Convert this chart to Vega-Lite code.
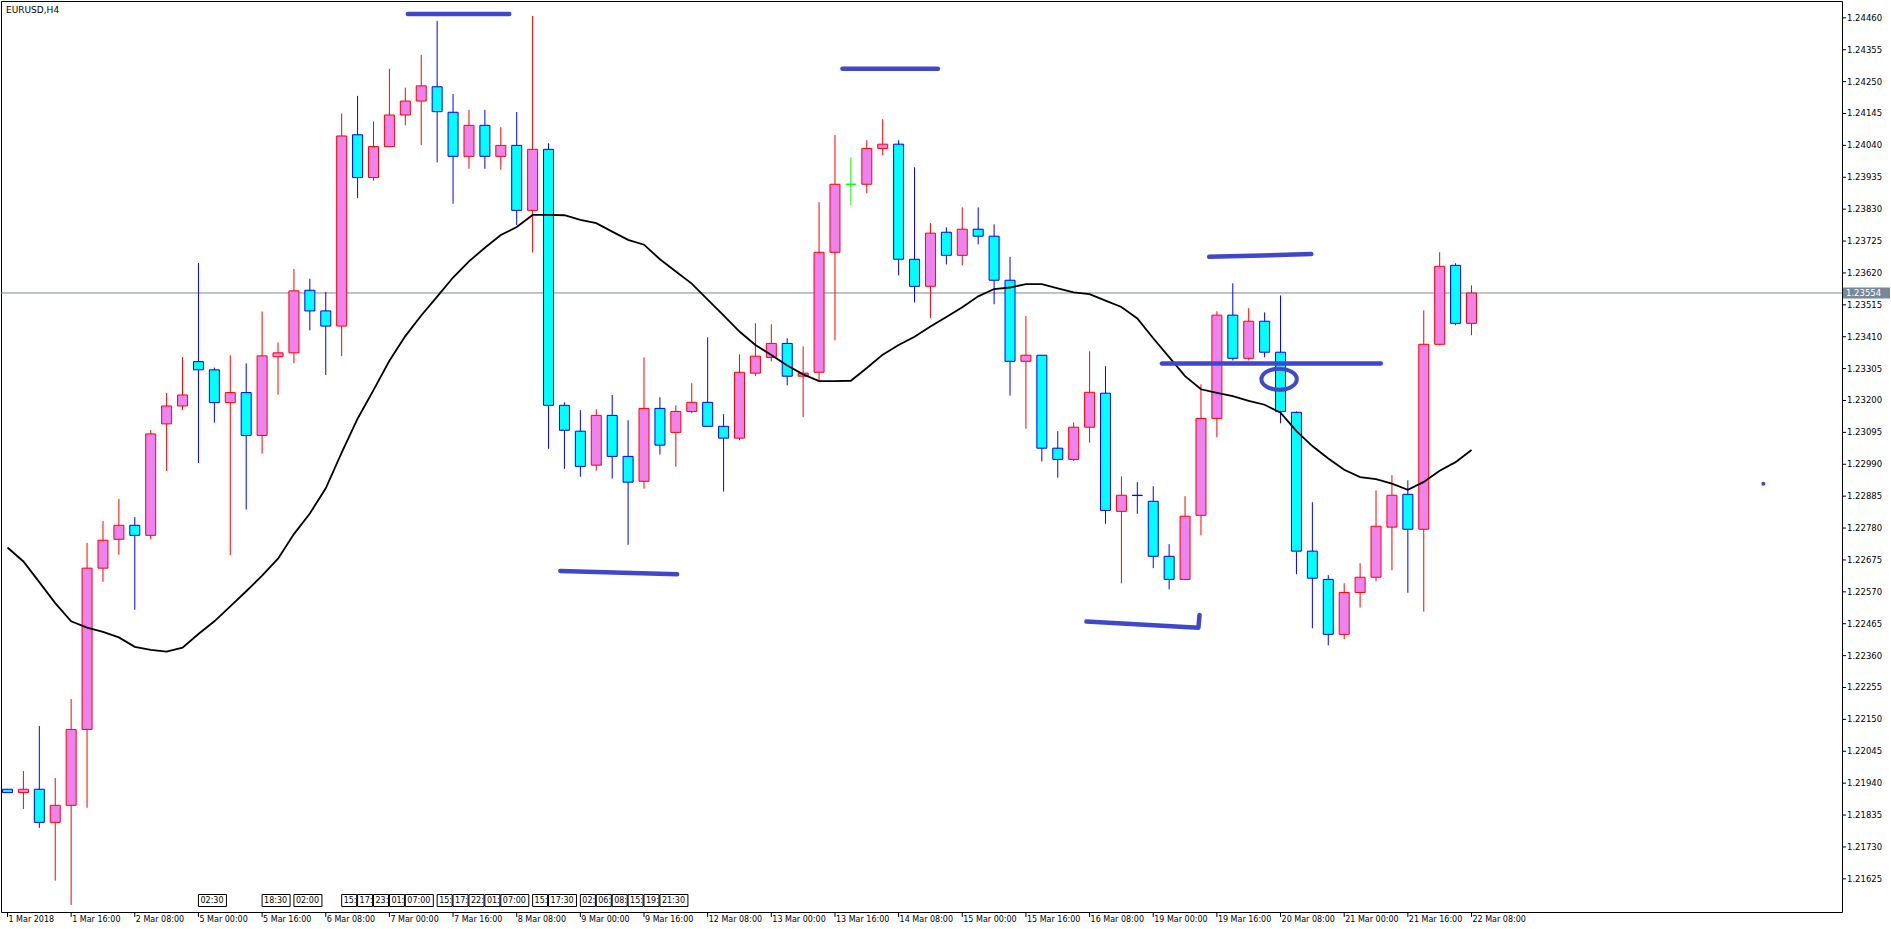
{
  "$schema": "https://vega.github.io/schema/vega-lite/v6.json",
  "width": 1841,
  "height": 911,
  "autosize": {"type": "none"},
  "padding": {"left": 1, "top": 1, "right": 49, "bottom": 17},
  "background": "white",
  "config": {
    "view": {"stroke": "black", "strokeWidth": 1},
    "font": "DejaVu Sans"
  },
  "datasets": {
    "bars": [
      {"i":0,"o":1.21920,"h":1.21921,"l":1.21908,"c":1.21909,"ma":1.22716},
      {"i":1,"o":1.21909,"h":1.21980,"l":1.21855,"c":1.21920,"ma":1.22670},
      {"i":2,"o":1.21920,"h":1.22128,"l":1.21793,"c":1.21811,"ma":1.22602},
      {"i":3,"o":1.21811,"h":1.21957,"l":1.21619,"c":1.21867,"ma":1.22533},
      {"i":4,"o":1.21867,"h":1.22217,"l":1.21539,"c":1.22117,"ma":1.22473},
      {"i":5,"o":1.22117,"h":1.22731,"l":1.21859,"c":1.22648,"ma":1.22452},
      {"i":6,"o":1.22648,"h":1.22803,"l":1.22603,"c":1.22740,"ma":1.22438},
      {"i":7,"o":1.22743,"h":1.22876,"l":1.22692,"c":1.22789,"ma":1.22420},
      {"i":8,"o":1.22789,"h":1.22816,"l":1.22511,"c":1.22756,"ma":1.22389},
      {"i":9,"o":1.22756,"h":1.23103,"l":1.22743,"c":1.23090,"ma":1.22379},
      {"i":10,"o":1.23123,"h":1.23225,"l":1.22968,"c":1.23182,"ma":1.22373},
      {"i":11,"o":1.23182,"h":1.23343,"l":1.23169,"c":1.23218,"ma":1.22386},
      {"i":12,"o":1.23328,"h":1.23653,"l":1.22994,"c":1.23301,"ma":1.22431},
      {"i":13,"o":1.23301,"h":1.23308,"l":1.23127,"c":1.23193,"ma":1.22473},
      {"i":14,"o":1.23193,"h":1.23349,"l":1.22691,"c":1.23226,"ma":1.22522},
      {"i":15,"o":1.23226,"h":1.23322,"l":1.22841,"c":1.23085,"ma":1.22572},
      {"i":16,"o":1.23085,"h":1.23493,"l":1.23025,"c":1.23347,"ma":1.22623},
      {"i":17,"o":1.23344,"h":1.23391,"l":1.23219,"c":1.23357,"ma":1.22679},
      {"i":18,"o":1.23357,"h":1.23633,"l":1.23323,"c":1.23561,"ma":1.22760},
      {"i":19,"o":1.23563,"h":1.23601,"l":1.23431,"c":1.23495,"ma":1.22828},
      {"i":20,"o":1.23495,"h":1.23557,"l":1.23284,"c":1.23445,"ma":1.22911},
      {"i":21,"o":1.23445,"h":1.24145,"l":1.23346,"c":1.24071,"ma":1.23028},
      {"i":22,"o":1.24075,"h":1.24203,"l":1.23867,"c":1.23934,"ma":1.23140},
      {"i":23,"o":1.23934,"h":1.24119,"l":1.23924,"c":1.24036,"ma":1.23234},
      {"i":24,"o":1.24036,"h":1.24292,"l":1.24036,"c":1.24140,"ma":1.23331},
      {"i":25,"o":1.24140,"h":1.24230,"l":1.24106,"c":1.24186,"ma":1.23412},
      {"i":26,"o":1.24186,"h":1.24338,"l":1.24041,"c":1.24236,"ma":1.23480},
      {"i":27,"o":1.24233,"h":1.24450,"l":1.23984,"c":1.24151,"ma":1.23542},
      {"i":28,"o":1.24149,"h":1.24209,"l":1.23848,"c":1.24004,"ma":1.23605},
      {"i":29,"o":1.24004,"h":1.24157,"l":1.23963,"c":1.24106,"ma":1.23658},
      {"i":30,"o":1.24106,"h":1.24157,"l":1.23963,"c":1.24004,"ma":1.23703},
      {"i":31,"o":1.24004,"h":1.24100,"l":1.23960,"c":1.24040,"ma":1.23745},
      {"i":32,"o":1.24040,"h":1.24150,"l":1.23778,"c":1.23826,"ma":1.23771},
      {"i":33,"o":1.23826,"h":1.24466,"l":1.23687,"c":1.24027,"ma":1.23811},
      {"i":34,"o":1.24027,"h":1.24047,"l":1.23041,"c":1.23184,"ma":1.23811},
      {"i":35,"o":1.23184,"h":1.23194,"l":1.22975,"c":1.23102,"ma":1.23810},
      {"i":36,"o":1.23099,"h":1.23168,"l":1.22949,"c":1.22983,"ma":1.23795},
      {"i":37,"o":1.22987,"h":1.23171,"l":1.22969,"c":1.23151,"ma":1.23784},
      {"i":38,"o":1.23151,"h":1.23218,"l":1.22943,"c":1.23016,"ma":1.23756},
      {"i":39,"o":1.23016,"h":1.23135,"l":1.22725,"c":1.22931,"ma":1.23729},
      {"i":40,"o":1.22934,"h":1.23342,"l":1.22910,"c":1.23174,"ma":1.23713},
      {"i":41,"o":1.23174,"h":1.23211,"l":1.23022,"c":1.23053,"ma":1.23665},
      {"i":42,"o":1.23095,"h":1.23184,"l":1.22982,"c":1.23164,"ma":1.23625},
      {"i":43,"o":1.23164,"h":1.23257,"l":1.23158,"c":1.23194,"ma":1.23585},
      {"i":44,"o":1.23194,"h":1.23408,"l":1.23115,"c":1.23115,"ma":1.23532},
      {"i":45,"o":1.23115,"h":1.23155,"l":1.22900,"c":1.23076,"ma":1.23480},
      {"i":46,"o":1.23076,"h":1.23352,"l":1.23069,"c":1.23293,"ma":1.23427},
      {"i":47,"o":1.23290,"h":1.23454,"l":1.23280,"c":1.23346,"ma":1.23383},
      {"i":48,"o":1.23342,"h":1.23451,"l":1.23329,"c":1.23388,"ma":1.23350},
      {"i":49,"o":1.23388,"h":1.23405,"l":1.23250,"c":1.23280,"ma":1.23315},
      {"i":50,"o":1.23280,"h":1.23378,"l":1.23145,"c":1.23290,"ma":1.23286},
      {"i":51,"o":1.23293,"h":1.23853,"l":1.23260,"c":1.23688,"ma":1.23264},
      {"i":52,"o":1.23688,"h":1.24074,"l":1.23398,"c":1.23912,"ma":1.23264},
      {"i":53,"o":1.23912,"h":1.24001,"l":1.23843,"c":1.23912,"ma":1.23265},
      {"i":54,"o":1.23912,"h":1.24057,"l":1.23882,"c":1.24030,"ma":1.23307},
      {"i":55,"o":1.24030,"h":1.24126,"l":1.24007,"c":1.24044,"ma":1.23351},
      {"i":56,"o":1.24044,"h":1.24057,"l":1.23612,"c":1.23665,"ma":1.23383},
      {"i":57,"o":1.23665,"h":1.23968,"l":1.23523,"c":1.23576,"ma":1.23410},
      {"i":58,"o":1.23576,"h":1.23784,"l":1.23471,"c":1.23751,"ma":1.23444},
      {"i":59,"o":1.23754,"h":1.23770,"l":1.23648,"c":1.23678,"ma":1.23475},
      {"i":60,"o":1.23678,"h":1.23836,"l":1.23645,"c":1.23764,"ma":1.23507},
      {"i":61,"o":1.23764,"h":1.23836,"l":1.23714,"c":1.23741,"ma":1.23543},
      {"i":62,"o":1.23741,"h":1.23780,"l":1.23517,"c":1.23596,"ma":1.23567},
      {"i":63,"o":1.23596,"h":1.23673,"l":1.23216,"c":1.23329,"ma":1.23572},
      {"i":64,"o":1.23329,"h":1.23478,"l":1.23107,"c":1.23349,"ma":1.23583},
      {"i":65,"o":1.23349,"h":1.23349,"l":1.22999,"c":1.23043,"ma":1.23583},
      {"i":66,"o":1.23043,"h":1.23099,"l":1.22946,"c":1.23006,"ma":1.23569},
      {"i":67,"o":1.23006,"h":1.23128,"l":1.23000,"c":1.23112,"ma":1.23556},
      {"i":68,"o":1.23112,"h":1.23362,"l":1.23061,"c":1.23227,"ma":1.23550},
      {"i":69,"o":1.23224,"h":1.23313,"l":1.22794,"c":1.22838,"ma":1.23529},
      {"i":70,"o":1.22835,"h":1.22950,"l":1.22598,"c":1.22888,"ma":1.23508},
      {"i":71,"o":1.22888,"h":1.22931,"l":1.22827,"c":1.22887,"ma":1.23470},
      {"i":72,"o":1.22868,"h":1.22918,"l":1.22648,"c":1.22687,"ma":1.23405},
      {"i":73,"o":1.22687,"h":1.22727,"l":1.22578,"c":1.22611,"ma":1.23343},
      {"i":74,"o":1.22611,"h":1.22885,"l":1.22608,"c":1.22819,"ma":1.23280},
      {"i":75,"o":1.22822,"h":1.23253,"l":1.22756,"c":1.23141,"ma":1.23237},
      {"i":76,"o":1.23141,"h":1.23494,"l":1.23079,"c":1.23481,"ma":1.23225},
      {"i":77,"o":1.23481,"h":1.23586,"l":1.23332,"c":1.23339,"ma":1.23214},
      {"i":78,"o":1.23339,"h":1.23504,"l":1.23332,"c":1.23461,"ma":1.23199},
      {"i":79,"o":1.23461,"h":1.23490,"l":1.23342,"c":1.23359,"ma":1.23186},
      {"i":80,"o":1.23359,"h":1.23546,"l":1.23125,"c":1.23164,"ma":1.23160},
      {"i":81,"o":1.23161,"h":1.23164,"l":1.22628,"c":1.22704,"ma":1.23099},
      {"i":82,"o":1.22704,"h":1.22865,"l":1.22450,"c":1.22615,"ma":1.23050},
      {"i":83,"o":1.22611,"h":1.22625,"l":1.22394,"c":1.22430,"ma":1.23009},
      {"i":84,"o":1.22430,"h":1.22598,"l":1.22414,"c":1.22568,"ma":1.22972},
      {"i":85,"o":1.22568,"h":1.22664,"l":1.22518,"c":1.22618,"ma":1.22948},
      {"i":86,"o":1.22618,"h":1.22904,"l":1.22605,"c":1.22786,"ma":1.22941},
      {"i":87,"o":1.22783,"h":1.22954,"l":1.22641,"c":1.22888,"ma":1.22926},
      {"i":88,"o":1.22891,"h":1.22937,"l":1.22567,"c":1.22776,"ma":1.22906},
      {"i":89,"o":1.22776,"h":1.23497,"l":1.22505,"c":1.23385,"ma":1.22932},
      {"i":90,"o":1.23385,"h":1.23688,"l":1.23382,"c":1.23642,"ma":1.22969},
      {"i":91,"o":1.23645,"h":1.23652,"l":1.23448,"c":1.23454,"ma":1.22997},
      {"i":92,"o":1.23454,"h":1.23579,"l":1.23415,"c":1.23554,"ma":1.23037}
    ],
    "lines": [
      {"seg":"a","k":0,"i":25.16,"p":1.24473},
      {"seg":"a","k":1,"i":31.53,"p":1.24473},
      {"seg":"b","k":0,"i":52.47,"p":1.24292},
      {"seg":"b","k":1,"i":58.47,"p":1.24292},
      {"seg":"c","k":0,"i":34.74,"p":1.22639},
      {"seg":"c","k":1,"i":42.08,"p":1.22628},
      {"seg":"d","k":0,"i":67.80,"p":1.22472},
      {"seg":"d","k":1,"i":74.84,"p":1.22452},
      {"seg":"d","k":2,"i":74.91,"p":1.22494},
      {"seg":"e","k":0,"i":75.52,"p":1.23673},
      {"seg":"e","k":1,"i":81.93,"p":1.23682},
      {"seg":"f","k":0,"i":72.55,"p":1.23322},
      {"seg":"f","k":1,"i":86.30,"p":1.23322}
    ],
    "events": [
      {"i":12,"t":"02:30"},{"i":16,"t":"18:30"},{"i":18,"t":"02:00"},
      {"i":21,"t":"15:"},{"i":22,"t":"17:"},{"i":23,"t":"23:"},{"i":24,"t":"01:"},{"i":25,"t":"07:00"},
      {"i":27,"t":"15:"},{"i":28,"t":"17:"},{"i":29,"t":"22:"},{"i":30,"t":"01:"},{"i":31,"t":"07:00"},
      {"i":33,"t":"15:"},{"i":34,"t":"17:30"},
      {"i":36,"t":"02:"},{"i":37,"t":"06:"},{"i":38,"t":"08:"},{"i":39,"t":"15:"},{"i":40,"t":"19:"},{"i":41,"t":"21:30"}
    ],
    "yticks": [
      {"p":1.21625},{"p":1.2173},{"p":1.21835},{"p":1.2194},{"p":1.22045},{"p":1.2215},{"p":1.22255},{"p":1.2236},{"p":1.22465},{"p":1.2257},{"p":1.22675},{"p":1.2278},{"p":1.22885},{"p":1.2299},
      {"p":1.23095},{"p":1.232},{"p":1.23305},{"p":1.2341},{"p":1.23515},{"p":1.2362},{"p":1.23725},{"p":1.2383},{"p":1.23935},{"p":1.2404},{"p":1.24145},{"p":1.2425},{"p":1.24355},{"p":1.2446}
    ],
    "xticks": [
      {"i":0,"t":"1 Mar 2018"},{"i":4,"t":"1 Mar 16:00"},{"i":8,"t":"2 Mar 08:00"},{"i":12,"t":"5 Mar 00:00"},{"i":16,"t":"5 Mar 16:00"},{"i":20,"t":"6 Mar 08:00"},
      {"i":24,"t":"7 Mar 00:00"},{"i":28,"t":"7 Mar 16:00"},{"i":32,"t":"8 Mar 08:00"},{"i":36,"t":"9 Mar 00:00"},{"i":40,"t":"9 Mar 16:00"},{"i":44,"t":"12 Mar 08:00"},
      {"i":48,"t":"13 Mar 00:00"},{"i":52,"t":"13 Mar 16:00"},{"i":56,"t":"14 Mar 08:00"},{"i":60,"t":"15 Mar 00:00"},{"i":64,"t":"15 Mar 16:00"},{"i":68,"t":"16 Mar 08:00"},
      {"i":72,"t":"19 Mar 00:00"},{"i":76,"t":"19 Mar 16:00"},{"i":80,"t":"20 Mar 08:00"},{"i":84,"t":"21 Mar 00:00"},{"i":88,"t":"21 Mar 16:00"},{"i":92,"t":"22 Mar 08:00"}
    ]
  },
  "layer": [
    {
      "data": {"values": [{"p": 1.23554}]},
      "mark": {"type": "rule", "color": "#778899", "strokeWidth": 1},
      "encoding": {
        "y": {"field": "p", "type": "quantitative", "scale": {"domain": [1.215158, 1.245154], "zero": false, "nice": false}, "axis": null}
      }
    },
    {
      "data": {"name": "bars"},
      "mark": {"type": "rule", "strokeWidth": 1, "clip": true},
      "encoding": {
        "x": {"field": "i", "type": "quantitative", "scale": {"domain": [-0.09375, 114.96875], "zero": false, "nice": false}, "axis": null},
        "y": {"field": "l", "type": "quantitative", "scale": {"domain": [1.215158, 1.245154], "zero": false, "nice": false}, "axis": null},
        "y2": {"field": "h"},
        "color": {"condition": [{"test": "datum.c == datum.o", "value": "#00ff00"}, {"test": "datum.c > datum.o", "value": "#ff0000"}], "value": "#0000ff"}
      }
    },
    {
      "data": {"name": "bars"},
      "mark": {"type": "bar", "orient": "vertical", "width": 10, "strokeWidth": 1, "clip": true, "cornerRadius": 0},
      "encoding": {
        "x": {"field": "i", "type": "quantitative", "scale": {"domain": [-0.09375, 114.96875], "zero": false, "nice": false}, "axis": null},
        "y": {"field": "o", "type": "quantitative", "scale": {"domain": [1.215158, 1.245154], "zero": false, "nice": false}, "axis": null},
        "y2": {"field": "c"},
        "fill": {"condition": {"test": "datum.c > datum.o", "value": "#ee82ee"}, "value": "#00ffff"},
        "stroke": {"condition": [{"test": "datum.c == datum.o", "value": "#00ff00"}, {"test": "datum.c > datum.o", "value": "#ff0000"}], "value": "#0000ff"}
      }
    },
    {
      "data": {"name": "bars"},
      "mark": {"type": "line", "color": "black", "strokeWidth": 1.8, "clip": true},
      "encoding": {
        "x": {"field": "i", "type": "quantitative", "scale": {"domain": [-0.09375, 114.96875], "zero": false, "nice": false}, "axis": null},
        "y": {"field": "ma", "type": "quantitative", "scale": {"domain": [1.215158, 1.245154], "zero": false, "nice": false}, "axis": null}
      }
    },
    {
      "data": {"name": "lines"},
      "mark": {"type": "line", "color": "#3f48cc", "strokeWidth": 4.5, "strokeCap": "round", "strokeJoin": "round"},
      "encoding": {
        "x": {"field": "i", "type": "quantitative", "scale": {"domain": [-0.09375, 114.96875], "zero": false, "nice": false}, "axis": null},
        "y": {"field": "p", "type": "quantitative", "scale": {"domain": [1.215158, 1.245154], "zero": false, "nice": false}, "axis": null},
        "detail": {"field": "seg"},
        "order": {"field": "k"}
      }
    },
    {
      "data": {"values": [{"i": 79.91, "p": 1.23270}]},
      "mark": {"type": "point", "filled": false, "stroke": "#3f48cc", "strokeWidth": 4, "opacity": 1, "size": 1253,
        "shape": "M-1,0C-1,-0.328,-0.552,-0.593,0,-0.593C0.552,-0.593,1,-0.328,1,0C1,0.328,0.552,0.593,0,0.593C-0.552,0.593,-1,0.328,-1,0Z"},
      "encoding": {
        "x": {"field": "i", "type": "quantitative", "scale": {"domain": [-0.09375, 114.96875], "zero": false, "nice": false}, "axis": null},
        "y": {"field": "p", "type": "quantitative", "scale": {"domain": [1.215158, 1.245154], "zero": false, "nice": false}, "axis": null}
      }
    },
    {
      "data": {"values": [{"i": 110.34, "p": 1.22926}]},
      "mark": {"type": "circle", "color": "#3f48cc", "opacity": 1, "size": 16},
      "encoding": {
        "x": {"field": "i", "type": "quantitative", "scale": {"domain": [-0.09375, 114.96875], "zero": false, "nice": false}, "axis": null},
        "y": {"field": "p", "type": "quantitative", "scale": {"domain": [1.215158, 1.245154], "zero": false, "nice": false}, "axis": null}
      }
    },
    {
      "data": {"name": "events"},
      "transform": [{"filter": "length(datum.t) <= 3"}],
      "mark": {"type": "rect", "x2Offset": 15, "fill": "white", "stroke": "black", "strokeWidth": 1},
      "encoding": {
        "x": {"field": "i", "type": "quantitative", "scale": {"domain": [-0.09375, 114.96875], "zero": false, "nice": false}, "axis": null},
        "x2": {"field": "i"},
        "y": {"value": 893.5},
        "y2": {"value": 905.5}
      }
    },
    {
      "data": {"name": "events"},
      "transform": [{"filter": "length(datum.t) > 3"}],
      "mark": {"type": "rect", "x2Offset": 28, "fill": "white", "stroke": "black", "strokeWidth": 1},
      "encoding": {
        "x": {"field": "i", "type": "quantitative", "scale": {"domain": [-0.09375, 114.96875], "zero": false, "nice": false}, "axis": null},
        "x2": {"field": "i"},
        "y": {"value": 893.5},
        "y2": {"value": 905.5}
      }
    },
    {
      "data": {"name": "events"},
      "mark": {"type": "text", "align": "left", "baseline": "middle", "dx": 2, "fontSize": 8, "font": "DejaVu Sans", "color": "black"},
      "encoding": {
        "x": {"field": "i", "type": "quantitative", "scale": {"domain": [-0.09375, 114.96875], "zero": false, "nice": false}, "axis": null},
        "y": {"value": 899.5},
        "text": {"field": "t"}
      }
    },
    {
      "data": {"name": "yticks"},
      "mark": {"type": "rule", "color": "black", "strokeWidth": 1},
      "encoding": {
        "y": {"field": "p", "type": "quantitative", "scale": {"domain": [1.215158, 1.245154], "zero": false, "nice": false}, "axis": null},
        "x": {"value": 1841},
        "x2": {"value": 1845}
      }
    },
    {
      "data": {"name": "yticks"},
      "mark": {"type": "text", "align": "left", "baseline": "middle", "fontSize": 8.5, "font": "DejaVu Sans", "color": "black", "dx": 5},
      "encoding": {
        "y": {"field": "p", "type": "quantitative", "scale": {"domain": [1.215158, 1.245154], "zero": false, "nice": false}, "axis": null},
        "x": {"value": 1841},
        "text": {"field": "p", "type": "quantitative", "format": ".5f"}
      }
    },
    {
      "data": {"name": "xticks"},
      "mark": {"type": "rule", "color": "black", "strokeWidth": 1},
      "encoding": {
        "x": {"field": "i", "type": "quantitative", "scale": {"domain": [-0.09375, 114.96875], "zero": false, "nice": false}, "axis": null},
        "y": {"value": 911},
        "y2": {"value": 916}
      }
    },
    {
      "data": {"name": "xticks"},
      "mark": {"type": "text", "align": "left", "baseline": "top", "fontSize": 8, "font": "DejaVu Sans", "color": "black", "dx": 1, "dy": 4},
      "encoding": {
        "x": {"field": "i", "type": "quantitative", "scale": {"domain": [-0.09375, 114.96875], "zero": false, "nice": false}, "axis": null},
        "y": {"value": 911},
        "text": {"field": "t"}
      }
    },
    {
      "data": {"values": [{"p": 1.23554}]},
      "mark": {"type": "rule", "color": "#778899", "strokeWidth": 11},
      "encoding": {
        "y": {"field": "p", "type": "quantitative", "scale": {"domain": [1.215158, 1.245154], "zero": false, "nice": false}, "axis": null},
        "x": {"value": 1842},
        "x2": {"value": 1889}
      }
    },
    {
      "data": {"values": [{"p": 1.23554}]},
      "mark": {"type": "text", "align": "left", "baseline": "middle", "fontSize": 8.5, "font": "DejaVu Sans", "color": "white", "dx": 4},
      "encoding": {
        "y": {"field": "p", "type": "quantitative", "scale": {"domain": [1.215158, 1.245154], "zero": false, "nice": false}, "axis": null},
        "x": {"value": 1841},
        "text": {"value": "1.23554"}
      }
    },
    {
      "data": {"values": [{"t": "EURUSD,H4"}]},
      "mark": {"type": "text", "align": "left", "baseline": "top", "fontSize": 9, "font": "DejaVu Sans", "color": "black"},
      "encoding": {
        "x": {"value": 5},
        "y": {"value": 5},
        "text": {"field": "t"}
      }
    }
  ]
}
